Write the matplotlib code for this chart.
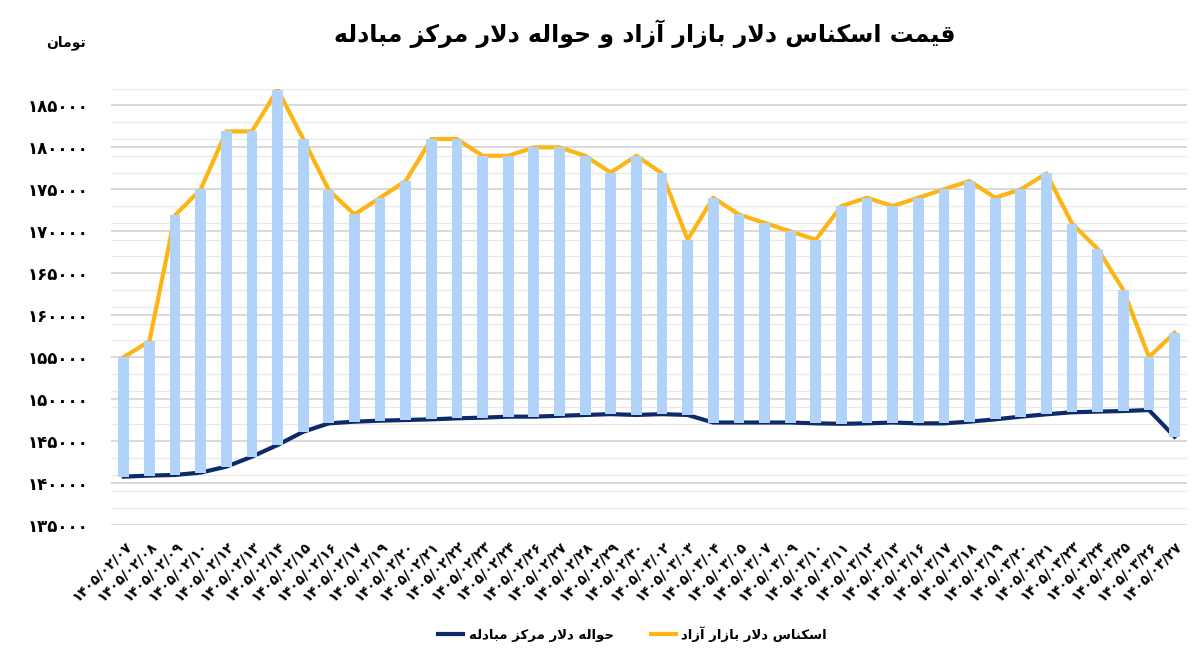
import matplotlib
matplotlib.use("Agg")
import matplotlib.pyplot as plt
from matplotlib.ticker import FixedLocator, FuncFormatter
import numpy as np

plt.rcParams['font.family'] = ['DejaVu Sans']

#%% data
dates = ['1405/02/07', '1405/02/08', '1405/02/09', '1405/02/10', '1405/02/12',
         '1405/02/13', '1405/02/14', '1405/02/15', '1405/02/16', '1405/02/17',
         '1405/02/19', '1405/02/20', '1405/02/21', '1405/02/22', '1405/02/23',
         '1405/02/24', '1405/02/26', '1405/02/27', '1405/02/28', '1405/02/29',
         '1405/02/30', '1405/03/02', '1405/03/03', '1405/03/04', '1405/03/05',
         '1405/03/07', '1405/03/09', '1405/03/10', '1405/03/11', '1405/03/12',
         '1405/03/13', '1405/03/16', '1405/03/17', '1405/03/18', '1405/03/19',
         '1405/03/20', '1405/03/21', '1405/03/23', '1405/03/24', '1405/03/25',
         '1405/03/26', '1405/03/27']

# free market cash dollar (toman)
azad = [155000, 156900, 171900, 175000, 181900, 181900, 186900, 181000, 174900, 172000,
        174000, 176000, 181000, 181000, 179000, 179000, 180000, 180000, 179000, 177000,
        179000, 176900, 169000, 174000, 172000, 171000, 170000, 169000, 173000, 174000,
        173000, 174000, 175000, 176000, 174000, 175000, 176900, 170900, 167900, 163000,
        155000, 157900]

# exchange center remittance (toman)
markaz = [140750, 140870, 140950, 141230, 141940, 143130, 144520, 146100, 147100, 147300,
          147420, 147500, 147580, 147700, 147780, 147900, 147900, 148000, 148100, 148200,
          148100, 148200, 148100, 147200, 147200, 147200, 147200, 147100, 147050, 147100,
          147200, 147100, 147100, 147300, 147580, 147900, 148180, 148420, 148500, 148570,
          148690, 145510]

title = 'قیمت اسکناس دلار بازار آزاد و حواله دلار مرکز مبادله'
unit = 'تومان'
name_azad = 'اسکناس دلار بازار آزاد'
name_markaz = 'حواله دلار مرکز مبادله'

#%% simple persian shaping (matplotlib has no RTL / joining)
FORMS = {
    'ا': ('\uFE8D', '\uFE8E', None, None),
    'آ': ('\uFE81', '\uFE82', None, None),
    'ب': ('\uFE8F', '\uFE90', '\uFE91', '\uFE92'),
    'ت': ('\uFE95', '\uFE96', '\uFE97', '\uFE98'),
    'ح': ('\uFEA1', '\uFEA2', '\uFEA3', '\uFEA4'),
    'د': ('\uFEA9', '\uFEAA', None, None),
    'ر': ('\uFEAD', '\uFEAE', None, None),
    'ز': ('\uFEAF', '\uFEB0', None, None),
    'س': ('\uFEB1', '\uFEB2', '\uFEB3', '\uFEB4'),
    'ق': ('\uFED5', '\uFED6', '\uFED7', '\uFED8'),
    'ل': ('\uFEDD', '\uFEDE', '\uFEDF', '\uFEE0'),
    'م': ('\uFEE1', '\uFEE2', '\uFEE3', '\uFEE4'),
    'ن': ('\uFEE5', '\uFEE6', '\uFEE7', '\uFEE8'),
    'ه': ('\uFEE9', '\uFEEA', '\uFEEB', '\uFEEC'),
    'و': ('\uFEED', '\uFEEE', None, None),
    'ک': ('\uFB8E', '\uFB8F', '\uFB90', '\uFB91'),
    'ی': ('\uFBFC', '\uFBFD', '\uFBFE', '\uFBFF'),
}
LAMALEF = {'ا': ('\uFEFB', '\uFEFC'), 'آ': ('\uFEF5', '\uFEF6')}


def fa(text):
    out = []
    prev = False
    i = 0
    while i < len(text):
        c = text[i]
        if c not in FORMS:
            out.append(c)
            prev = False
            i += 1
            continue
        if c == 'ل' and i + 1 < len(text) and text[i + 1] in LAMALEF:
            out.append(LAMALEF[text[i + 1]][1 if prev else 0])
            prev = False
            i += 2
            continue
        nxt = text[i + 1] if i + 1 < len(text) else None
        links = FORMS[c][2] is not None and nxt in FORMS
        iso, fin, ini, med = FORMS[c]
        if prev and links:
            out.append(med)
        elif prev:
            out.append(fin)
        elif links:
            out.append(ini)
        else:
            out.append(iso)
        prev = links
        i += 1
    return ''.join(reversed(out))


DIG = str.maketrans('0123456789', '۰۱۲۳۴۵۶۷۸۹')

#%% plot
fig = plt.figure(figsize=(12, 6.52), dpi=100)
ax = fig.add_axes([0.0925, 0.195, 0.897, 0.669])

x = np.arange(len(dates))
low = np.array(markaz)
high = np.array(azad)

ax.plot(x, markaz, color='#0D2A6B', lw=3, zorder=2, label=fa(name_markaz))
ax.plot(x, azad, color='#FDB515', lw=3, zorder=2, label=fa(name_azad))
ax.bar(x, high - low, bottom=low, width=0.42, color='#B1D3FA', zorder=3)

ax.set_xlim(-0.5, len(dates) - 0.5)
ax.set_ylim(135000, 187000)
ax.yaxis.set_major_locator(FixedLocator(np.arange(135000, 186000, 5000)))
ax.yaxis.set_minor_locator(FixedLocator(np.arange(135000, 187001, 2000)))
ax.yaxis.set_major_formatter(FuncFormatter(lambda v, p: str(int(v)).translate(DIG)))
ax.grid(axis='y', which='major', color='#CFCFCF', lw=1.1, zorder=0)
ax.grid(axis='y', which='minor', color='#E8E8E8', lw=0.9, zorder=0)
ax.set_axisbelow(True)
for s in ax.spines.values():
    s.set_visible(False)
ax.tick_params(axis='y', which='both', length=0, pad=16, labelsize=12)
ax.tick_params(axis='x', length=0, pad=10)
for t in ax.get_yticklabels():
    t.set_fontweight('bold')

ax.set_xticks(x)
ax.set_xticklabels([d.translate(DIG) for d in dates], rotation=45, ha='right',
                   va='top', rotation_mode='anchor', fontsize=10, fontweight='bold')

fig.text(0.5375, 0.949, fa(title), ha='center', va='center', fontsize=17, fontweight='bold')
fig.text(0.055, 0.935, fa(unit), ha='center', va='center', fontsize=10, fontweight='bold')

fig.legend(loc='center', bbox_to_anchor=(0.527, 0.028), ncol=2, frameon=False,
           prop={'weight': 'bold', 'size': 9.5}, handlelength=1.9, handletextpad=0.4,
           columnspacing=2.8)

plt.savefig('out.png', dpi=100)
